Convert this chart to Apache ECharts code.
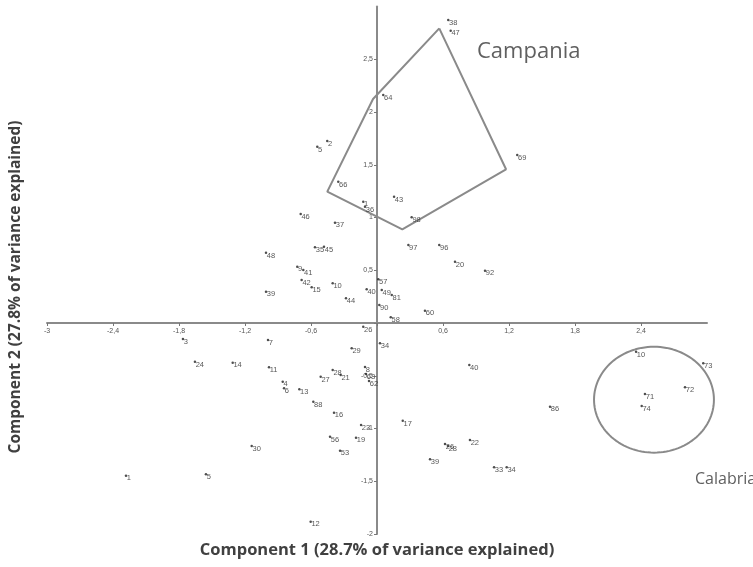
<!DOCTYPE html>
<html>
<head>
<meta charset="utf-8">
<script src="https://cdn.jsdelivr.net/npm/echarts@6/dist/echarts.min.js"></script>
<style>
html,body{margin:0;padding:0;background:#fff;}
#chart{width:753px;height:567px;}
</style>
</head>
<body>
<div id="chart"></div>
<script>
// Sample labels and PCA scores
const sampleLabels = ["38","47","64","69","5","2","66","43","1","36","98","46","37","97","96","20","92","48","35","45",
  "9","41","42","15","10","39","44","40","57","49","81","90","58","60","26","3","7","34","29","24",
  "14","11","4","6","13","27","28","21","8","63","62","88","16","23","17","56","19","53","30","1",
  "5","12","40","26","28","22","39","33","34","86","10","73","72","71","74"];
const comp1 = [0.648,0.670,0.057,1.275,-0.543,-0.452,-0.352,0.155,-0.125,-0.109,0.315,-0.694,-0.382,0.285,0.566,0.709,0.982,-1.009,-0.564,-0.482,
  -0.725,-0.670,-0.685,-0.594,-0.403,-1.009,-0.282,-0.094,0.012,0.043,0.134,0.021,0.125,0.436,-0.125,-1.764,-0.991,0.027,-0.230,-1.655,
  -1.312,-0.982,-0.857,-0.845,-0.706,-0.512,-0.403,-0.330,-0.109,-0.100,-0.073,-0.579,-0.391,-0.145,0.234,-0.427,-0.191,-0.336,-1.139,-2.282,
  -1.555,-0.603,0.839,0.618,0.645,0.845,0.482,1.064,1.179,1.573,2.355,2.966,2.800,2.436,2.406];
const comp2 = [2.872,2.771,2.161,1.592,1.671,1.725,1.339,1.197,1.150,1.102,1.002,1.033,0.951,0.739,0.739,0.581,0.496,0.666,0.718,0.723,
  0.534,0.502,0.408,0.338,0.376,0.297,0.234,0.319,0.414,0.313,0.265,0.171,0.054,0.117,-0.035,-0.152,-0.161,-0.192,-0.240,-0.367,
  -0.376,-0.420,-0.556,-0.619,-0.628,-0.509,-0.445,-0.493,-0.417,-0.483,-0.550,-0.746,-0.850,-0.967,-0.926,-1.078,-1.087,-1.210,-1.166,-1.447,
  -1.434,-1.883,-0.398,-1.147,-1.166,-1.109,-1.292,-1.368,-1.368,-0.793,-0.272,-0.382,-0.609,-0.673,-0.787];

// Campania convex hull (component 1, component 2)
const campaniaX = [0.566, 1.173, 0.230, -0.452, -0.036, 0.566];
const campaniaY = [2.793, 1.457, 0.888, 1.245, 2.123, 2.793];

// Calabria ellipse: centre and radii in score units
const calabriaCentre = [2.518, -0.727];
const calabriaRadii = [0.545, 0.502];

// Axis ranges and tick steps
const xRange = [-3, 3], xStep = 0.6;
const yRange = [-2, 3], yStep = 0.5;

function fmt(v){
  if (Math.abs(v) < 1e-9) return '';
  const r = Math.round(v*10)/10;
  return String(r).replace('.', ',');
}

const ellipse = [];
for (let k = 0; k <= 120; k++) {
  const t = k / 120 * 2 * Math.PI;
  ellipse.push([calabriaCentre[0] + calabriaRadii[0]*Math.cos(t), calabriaCentre[1] + calabriaRadii[1]*Math.sin(t)]);
}

const W = 753, H = 567;
const grid = {left: 47, right: 46, top: 6.5, bottom: 33};
const gw = W - grid.left - grid.right, gh = H - grid.top - grid.bottom;
// offsets that place each axis (with its labels) through the origin
const xOffset = -gh * (0 - yRange[0]) / (yRange[1] - yRange[0]);
const yOffset = -gw * (0 - xRange[0]) / (xRange[1] - xRange[0]);
// an invisible overlay grid with the same scale, wider so the outlines are not clipped
const unitX = gw / (xRange[1] - xRange[0]);
const overlayMaxX = xRange[0] + (W - grid.left) / unitX;

const chart = echarts.init(document.getElementById('chart'), null, {renderer:'canvas'});
const axisCommon = {
  type: 'value',
  axisLine: {show: true, onZero: false, lineStyle: {color: '#8a8a8a', width: 2}},
  axisTick: {show: true, length: 3, lineStyle: {color: '#777', width: 1}},
  splitLine: {show: false},
  axisLabel: {fontSize: 7, color: '#555', fontFamily: 'Liberation Sans', formatter: fmt, showMaxLabel: false, showMinLabel: true}
};
chart.setOption({
  animation: false,
  backgroundColor: '#fff',
  grid: [
    Object.assign({containLabel: false}, grid),
    {left: grid.left, right: 0, top: grid.top, bottom: grid.bottom, containLabel: false}
  ],
  xAxis: [
    Object.assign({}, axisCommon, {min: xRange[0], max: xRange[1], interval: xStep, position: 'bottom', offset: xOffset,
      axisLabel: Object.assign({}, axisCommon.axisLabel, {margin: 5})}),
    {type: 'value', gridIndex: 1, min: xRange[0], max: overlayMaxX, show: false}
  ],
  yAxis: [
    Object.assign({}, axisCommon, {min: yRange[0], max: yRange[1], interval: yStep, position: 'left', offset: yOffset,
      axisLabel: Object.assign({}, axisCommon.axisLabel, {margin: 4})}),
    {type: 'value', gridIndex: 1, min: yRange[0], max: yRange[1], show: false}
  ],
  series: [
    {
      type: 'line', name: 'Campania', xAxisIndex: 1, yAxisIndex: 1,
      data: campaniaX.map((x, i) => [x, campaniaY[i]]),
      showSymbol: false, symbol: 'none', clip: false,
      lineStyle: {color: '#8a8a8a', width: 2}, z: 1, silent: true
    },
    {
      type: 'line', name: 'Calabria', xAxisIndex: 1, yAxisIndex: 1,
      data: ellipse, showSymbol: false, symbol: 'none', clip: false,
      lineStyle: {color: '#8a8a8a', width: 2}, z: 1, silent: true
    },
    {
      type: 'scatter', name: 'samples',
      data: comp1.map((x, i) => [x, comp2[i], sampleLabels[i]]),
      symbolSize: 2.5, clip: false,
      itemStyle: {color: '#222'},
      label: {show: true, formatter: p => p.data[2], position: [2, 0],
        fontSize: 7.5, color: '#2a2a2a', fontFamily: 'Liberation Sans'},
      labelLayout: {hideOverlap: false},
      z: 3
    }
  ],
  graphic: [
    {type: 'text', left: 477, top: 41, style: {text: 'Campania', font: '22px "Open Sans"', fill: '#606060'}},
    {type: 'text', left: 695, top: 471, style: {text: 'Calabria', font: '16px "Open Sans"', fill: '#606060'}},
    {type: 'text', x: 377, y: 550, style: {text: 'Component 1 (28.7% of variance explained)', font: 'bold 16.5px "Open Sans"',
      fill: '#404040', align: 'center', verticalAlign: 'middle'}},
    {type: 'text', x: 16, y: 287, rotation: Math.PI/2, style: {text: 'Component 2 (27.8% of variance explained)', font: 'bold 15.5px "Open Sans"',
      fill: '#404040', align: 'center', verticalAlign: 'middle'}}
  ]
});
</script>
</body>
</html>
